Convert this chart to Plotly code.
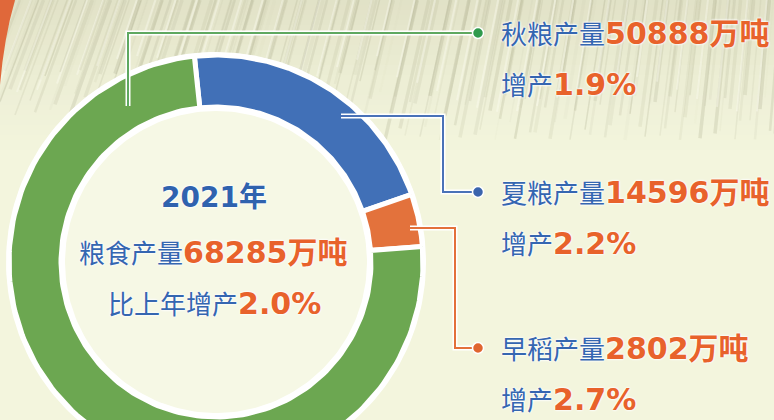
import numpy as np
import plotly.graph_objects as go

# ---- data ----
names = ["夏粮", "早稻", "秋粮"]
values = [14596, 2802, 50888]          # 万吨
growth = [2.2, 2.7, 1.9]               # %
total_value = 68285
total_growth = 2.0
year = 2021
seg_colors = ["#4170b7", "#e3723c", "#6ca751"]
dot_colors = ["#3a64ad", "#e0652f", "#2f9a4c"]
line_colors = ["#4a72b8", "#e3703a", "#5fa860"]

# ---- geometry (layout) ----
W, H = 774, 420
cx, cy = 216, 262
r_out, r_in = 207, 155
rotation = -6  # degrees, clockwise from 12 o'clock

BLUE_TXT = "#3566b1"
ORANGE_TXT = "#e8622b"
BG = "#f3f5dd"


def ring_poly(a0, a1, ro, ri, n=160):
    t = np.radians(np.linspace(a0, a1, n))
    xo, yo = cx + ro * np.sin(t), cy - ro * np.cos(t)
    xi, yi = cx + ri * np.sin(t[::-1]), cy - ri * np.cos(t[::-1])
    return np.r_[xo, xi, xo[0]], np.r_[yo, yi, yo[0]]


def disk(r, n=240):
    t = np.radians(np.linspace(0, 360, n))
    return cx + r * np.sin(t), cy - r * np.cos(t)


fig = go.Figure()

# white halo behind ring
x, y = disk(r_out + 3)
fig.add_trace(go.Scatter(x=x, y=y, fill="toself", fillcolor="#ffffff",
                         line=dict(width=0), mode="lines", hoverinfo="skip"))
x, y = disk(r_in - 4)
fig.add_trace(go.Scatter(x=x, y=y, fill="toself", fillcolor="#f6f8e5",
                         line=dict(width=0), mode="lines", hoverinfo="skip"))

# donut segments from values
tot = sum(values)
a = rotation
for name, v, c in zip(names, values, seg_colors):
    span = 360 * v / tot
    x, y = ring_poly(a, a + span, r_out, r_in)
    fig.add_trace(go.Scatter(x=x, y=y, fill="toself", fillcolor=c, mode="lines",
                             line=dict(color="#ffffff", width=5), name=name,
                             hoverinfo="name"))
    a += span

shapes = []
# background gradient at top
nb = 32
for i in range(nb):
    y0 = i * 5
    alpha = 0.26 * (1 - i / nb) ** 1.5
    shapes.append(dict(type="rect", xref="x", yref="y", x0=0, x1=W, y0=y0, y1=y0 + 5,
                       fillcolor=f"rgba(175,172,135,{alpha:.3f})", line=dict(width=0),
                       layer="below"))
# decorative streaks (texture)
k = 0
for xs in range(-40, W + 10, 5):
    k += 1
    length = 70 + 45 * (0.5 + 0.5 * np.sin(k * 1.7)) + (25 if xs > 380 else 0)
    slant = 0.38 - 0.30 * max(0, min(1, xs / W))
    al = 0.10 + 0.09 * np.sin(k * 2.9) * np.cos(k * 0.7)
    al = max(0.02, al)
    w = 1.5 + (k % 3)
    shapes.append(dict(type="line", xref="x", yref="y",
                       x0=xs + slant * length, y0=0, x1=xs, y1=length,
                       line=dict(color=f"rgba(135,135,100,{al:.3f})", width=w),
                       layer="below"))
    if k % 4 == 0:
        shapes.append(dict(type="line", xref="x", yref="y",
                           x0=xs + 2 + slant * length * 0.8, y0=0, x1=xs + 2, y1=length * 0.8,
                           line=dict(color="rgba(255,255,245,0.35)", width=2),
                           layer="below"))
# orange corner
shapes.append(dict(type="path", xref="x", yref="y", path="M 0 0 L 15 0 Q 4 38 0 85 Z",
                   fillcolor="#e0683a", line=dict(width=0), layer="below"))

# leader lines
leaders = [
    ("M 128 106 L 128 33 L 478 33", 2, (478, 33)),
    ("M 341 116 L 443 116 L 443 192 L 478 192", 0, (478, 192)),
    ("M 410 228 L 455 228 L 455 348 L 478 348", 1, (478, 348)),
]
for path, ci, (ex, ey) in leaders:
    shapes.append(dict(type="path", xref="x", yref="y", path=path,
                       line=dict(color="#ffffff", width=5), layer="above"))
    shapes.append(dict(type="path", xref="x", yref="y", path=path,
                       line=dict(color=line_colors[ci], width=2), layer="above"))
    shapes.append(dict(type="circle", xref="x", yref="y", x0=ex - 5.5, x1=ex + 5.5,
                       y0=ey - 5.5, y1=ey + 5.5, fillcolor=dot_colors[ci],
                       line=dict(color="#ffffff", width=1.5), layer="above"))

FONT = dict(family="DejaVu Sans, Noto Sans CJK SC", size=26, color=BLUE_TXT,
            shadow="0px 0px 2px #ffffff, 0px 0px 2px #ffffff, 0px 0px 3px #ffffff")


def orange(s):
    return f'<span style="color:{ORANGE_TXT};font-size:30px"><b>{s}</b></span>'


annotations = []
label_rows = [  # (name index, y of first line)
    (2, 33), (0, 192), (1, 348)
]
for idx, yy in label_rows:
    annotations.append(dict(x=499, y=yy, xref="x", yref="y", xanchor="left",
                            yanchor="middle", showarrow=False, font=FONT,
                            text=f"{names[idx]}产量{orange(f'{values[idx]}万吨')}"))
    annotations.append(dict(x=499, y=yy + 51, xref="x", yref="y", xanchor="left",
                            yanchor="middle", showarrow=False, font=FONT,
                            text=f"增产{orange(f'{growth[idx]:.1f}%')}"))

# centre texts
annotations.append(dict(x=214, y=197, xref="x", yref="y", showarrow=False,
                        xanchor="center", yanchor="middle",
                        text=f"<b>{year}年</b>",
                        font=dict(FONT, size=28, color="#2f62ae")))
annotations.append(dict(x=213, y=252, xref="x", yref="y", showarrow=False,
                        xanchor="center", yanchor="middle", font=FONT,
                        text=f"粮食产量{orange(f'{total_value}万吨')}"))
annotations.append(dict(x=214, y=303, xref="x", yref="y", showarrow=False,
                        xanchor="center", yanchor="middle", font=FONT,
                        text=f"比上年增产{orange(f'{total_growth:.1f}%')}"))

fig.update_layout(
    width=W, height=H, margin=dict(l=0, r=0, t=0, b=0),
    paper_bgcolor=BG, plot_bgcolor=BG, showlegend=False,
    xaxis=dict(range=[0, W], visible=False, fixedrange=True),
    yaxis=dict(range=[H, 0], visible=False, fixedrange=True),
    shapes=shapes, annotations=annotations,
)

fig.write_html("out.html", config={"displayModeBar": False},
               post_script="document.body.style.margin='0';document.body.style.overflow='hidden';")
